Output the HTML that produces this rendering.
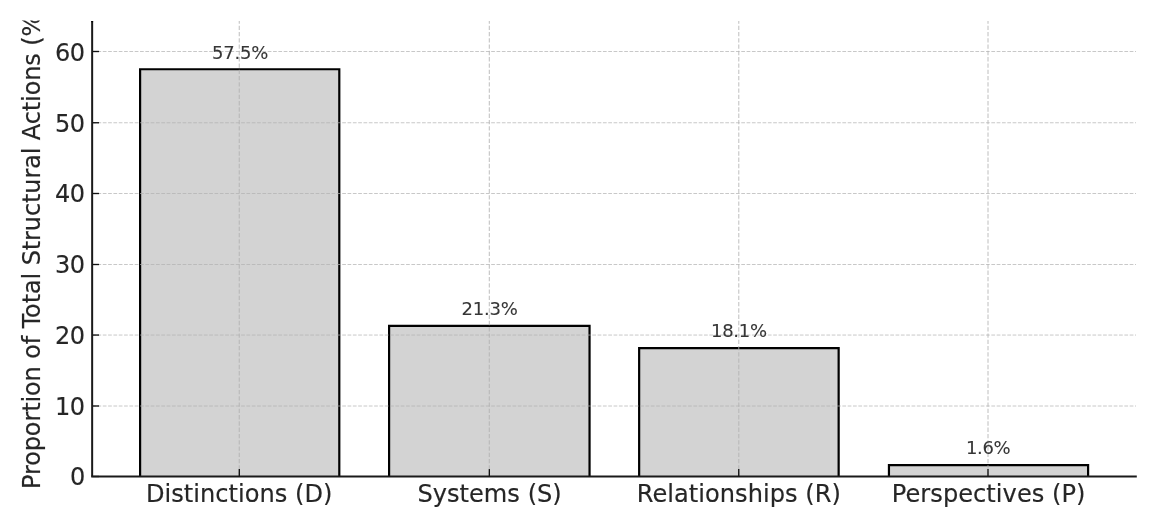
<!DOCTYPE html>
<html lang="en"><head><meta charset="utf-8"><title>Proportion of Total Structural Actions</title>
<style>html,body{margin:0;padding:0;background:#fff;overflow:hidden}body{width:1156px;height:514px}</style></head>
<body>
<svg width="1156" height="514" viewBox="0 0 1156 514" style="display:block">
<defs><clipPath id="c"><rect x="0" y="20.6" width="1156" height="494"/></clipPath></defs>
<rect width="1156" height="514" fill="#fff"/>
<path d="M140.10 476.5V69.25H339.30V476.5" fill="#d3d3d3" stroke="#000" stroke-width="2.2" stroke-linejoin="miter"/>
<path d="M389.10 476.5V325.80H589.55V476.5" fill="#d3d3d3" stroke="#000" stroke-width="2.2" stroke-linejoin="miter"/>
<path d="M639.15 476.5V348.20H838.65V476.5" fill="#d3d3d3" stroke="#000" stroke-width="2.2" stroke-linejoin="miter"/>
<path d="M888.95 476.5V465.07H1088.10V476.5" fill="#d3d3d3" stroke="#000" stroke-width="2.2" stroke-linejoin="miter"/>
<g stroke="#b0b0b0" stroke-opacity="0.7" stroke-width="1" fill="none">
<g stroke-dasharray="3.7145 1.6062">
<path d="M92.15 406.00H1136.0"/>
<path d="M92.15 335.05H1136.0"/>
<path d="M92.15 264.50H1136.0"/>
<path d="M92.15 193.50H1136.0"/>
<path d="M92.15 122.75H1136.0"/>
<path d="M92.15 51.50H1136.0"/>
</g>
<g stroke-width="1.18" stroke-dasharray="4.33 1.95" stroke-dashoffset="5.69">
<path d="M239.30 476.5V21.1"/>
<path d="M489.35 476.5V21.1"/>
<path d="M738.75 476.5V21.1"/>
<path d="M988.00 476.5V21.1"/>
</g>
</g>
<g stroke="#111" stroke-width="1.35" fill="none">
<path d="M92.15 476.50h6.9"/>
<path d="M92.15 406.00h6.9"/>
<path d="M92.15 335.05h6.9"/>
<path d="M92.15 264.50h6.9"/>
<path d="M92.15 193.50h6.9"/>
<path d="M92.15 122.75h6.9"/>
<path d="M92.15 51.50h6.9"/>
<path d="M239.30 476.5v-7.4"/>
<path d="M489.35 476.5v-7.4"/>
<path d="M738.75 476.5v-7.4"/>
<path d="M988.00 476.5v-7.4"/>
</g>
<path d="M92.15 21.1V476.5" stroke="#1a1a1a" stroke-width="2" fill="none"/>
<path d="M91.15 476.5H1136.8" stroke="#1a1a1a" stroke-width="2.15" fill="none"/>
<rect x="91.2" y="21.1" width="1.9" height="1.1" fill="#000"/>
<g font-family="DejaVu Sans, Liberation Sans, sans-serif" fill="#262626" stroke="#262626" stroke-width="0.16">
<text x="85.4" y="485.10" font-size="24" text-anchor="end">0</text>
<text x="85.0" y="415.00" font-size="24" text-anchor="end" textLength="29.9" lengthAdjust="spacing">10</text>
<text x="85.0" y="344.05" font-size="24" text-anchor="end" textLength="29.9" lengthAdjust="spacing">20</text>
<text x="85.0" y="273.00" font-size="24" text-anchor="end" textLength="29.9" lengthAdjust="spacing">30</text>
<text x="85.0" y="201.70" font-size="24" text-anchor="end" textLength="29.9" lengthAdjust="spacing">40</text>
<text x="85.0" y="131.65" font-size="24" text-anchor="end" textLength="29.9" lengthAdjust="spacing">50</text>
<text x="85.0" y="60.50" font-size="24" text-anchor="end" textLength="29.9" lengthAdjust="spacing">60</text>
<text x="145.97" y="502" font-size="24.1" textLength="186.45" lengthAdjust="spacing">Distinctions (D)</text>
<text x="417.40" y="502" font-size="24.1" textLength="144.36" lengthAdjust="spacing">Systems (S)</text>
<text x="636.72" y="502" font-size="24.1" textLength="204.2" lengthAdjust="spacing">Relationships (R)</text>
<text x="891.80" y="502" font-size="24.1" textLength="193.65" lengthAdjust="spacing">Perspectives (P)</text>
<text x="240.10" y="59.00" font-size="18" text-anchor="middle" textLength="56.4" lengthAdjust="spacing" fill="#363636" stroke="#363636" stroke-width="0.1">57.5%</text>
<text x="489.65" y="314.50" font-size="18" text-anchor="middle" textLength="56.5" lengthAdjust="spacing" fill="#363636" stroke="#363636" stroke-width="0.1">21.3%</text>
<text x="739.05" y="337.35" font-size="18" text-anchor="middle" textLength="56.2" lengthAdjust="spacing" fill="#363636" stroke="#363636" stroke-width="0.1">18.1%</text>
<text x="988.30" y="453.82" font-size="18" text-anchor="middle" textLength="44.75" lengthAdjust="spacing" fill="#363636" stroke="#363636" stroke-width="0.1">1.6%</text>
<g clip-path="url(#c)"><text transform="translate(40.4 489) rotate(-90)" font-size="24" textLength="484.6" lengthAdjust="spacing">Proportion of Total Structural Actions (%)</text></g>
</g>
</svg>
</body></html>
